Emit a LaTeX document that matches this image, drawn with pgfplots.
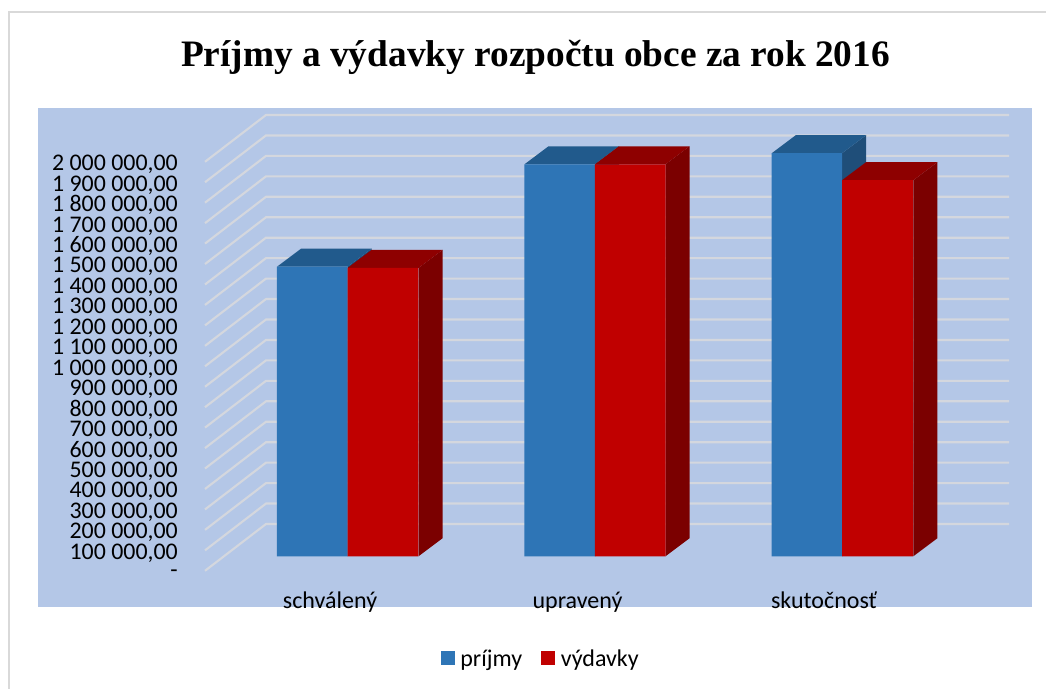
\documentclass[border=0pt]{standalone}
\usepackage{pgfplots}
\usepackage{fontspec}
\pgfplotsset{compat=1.18}
\setmainfont{Carlito}
\newfontfamily\titlefont{Liberation Serif}
\definecolor{panel}{HTML}{B4C7E7}
\definecolor{gridc}{HTML}{D4D7DE}
\definecolor{bfront}{HTML}{2E75B6}
\definecolor{btop}{HTML}{215A8C}
\definecolor{bside}{HTML}{1F4E79}
\definecolor{rfront}{HTML}{C00000}
\definecolor{rtop}{HTML}{8E0000}
\definecolor{rside}{HTML}{7B0000}
\definecolor{frame}{HTML}{D9D9D9}
\begin{document}
\begin{tikzpicture}[x=0.75pt,y=0.75pt]
\useasboundingbox (0,0) rectangle (1046,689);
\fill[white] (0,0) rectangle (1046,689);
\draw[frame,line width=1.5pt] (1060,676.5) -- (9,676.5) -- (9,-10);
\fill[panel] (38,82) rectangle (1032,581);
\node[font=\titlefont\bfseries\fontsize{28}{32}\selectfont,anchor=base] at (535.5,622.5) {Príjmy a výdavky rozpočtu obce za rok 2016};
\begin{axis}[
  at={(153.75pt,88.65pt)},anchor=south west,
  scale only axis,width=603pt,height=306.75pt,
  xmin=205,xmax=1009,ymin=0,ymax=2000000,
  scaled y ticks=false,
  clip=false,
  axis line style={draw=none},
  tick style={draw=none},
  major tick length=0pt,
  barface/.style={yshift=10.875pt},
  xtick={330,577.5,824},
  xticklabels={schválený,upravený,skutočnosť},
  xticklabel style={anchor=base,font=\fontsize{18}{20}\selectfont,yshift=-28pt},
  ytick={0,100000,200000,300000,400000,500000,600000,700000,800000,900000,1000000,1100000,1200000,1300000,1400000,1500000,1600000,1700000,1800000,1900000,2000000},
  yticklabels={{-\hspace{10.5pt}},{100~000,00},{200~000,00},{300~000,00},{400~000,00},{500~000,00},{600~000,00},{700~000,00},{800~000,00},{900~000,00},{1~000~000,00},{1~100~000,00},{1~200~000,00},{1~300~000,00},{1~400~000,00},{1~500~000,00},{1~600~000,00},{1~700~000,00},{1~800~000,00},{1~900~000,00},{2~000~000,00}},
  yticklabel style={anchor=east,inner xsep=0pt,xshift=-20.25pt,yshift=-2pt,font=\fontsize{17.9}{20}\selectfont},
  legend style={at={(axis cs:541,-431300)},anchor=center,draw=none,fill=none,
    legend columns=2,font=\fontsize{18}{20}\selectfont,
    /tikz/every even column/.append style={column sep=12.25pt},
    /tikz/every odd column/.append style={column sep=2.25pt}},
  legend image code/.code={\fill[#1] (0pt,-15pt) rectangle (10.5pt,-4.5pt);},
  unbounded coords=jump,
]
% gridlines: side wall and back wall
\addplot[forget plot,gridc,line width=1.6pt,line join=miter] coordinates {
(205,0)(266,228850)(1009,228850) (nan,nan)
(205,100000)(266,328850)(1009,328850) (nan,nan)
(205,200000)(266,428850)(1009,428850) (nan,nan)
(205,300000)(266,528850)(1009,528850) (nan,nan)
(205,400000)(266,628850)(1009,628850) (nan,nan)
(205,500000)(266,728850)(1009,728850) (nan,nan)
(205,600000)(266,828850)(1009,828850) (nan,nan)
(205,700000)(266,928850)(1009,928850) (nan,nan)
(205,800000)(266,1028850)(1009,1028850) (nan,nan)
(205,900000)(266,1128850)(1009,1128850) (nan,nan)
(205,1000000)(266,1228850)(1009,1228850) (nan,nan)
(205,1100000)(266,1328850)(1009,1328850) (nan,nan)
(205,1200000)(266,1428850)(1009,1428850) (nan,nan)
(205,1300000)(266,1528850)(1009,1528850) (nan,nan)
(205,1400000)(266,1628850)(1009,1628850) (nan,nan)
(205,1500000)(266,1728850)(1009,1728850) (nan,nan)
(205,1600000)(266,1828850)(1009,1828850) (nan,nan)
(205,1700000)(266,1928850)(1009,1928850) (nan,nan)
(205,1800000)(266,2028850)(1009,2028850) (nan,nan)
(205,1900000)(266,2128850)(1009,2128850) (nan,nan)
(205,2000000)(266,2228850)(1009,2228850)
};
% --- príjmy: sides and tops
\addplot[barface,forget plot,fill=bside,draw=none] coordinates {(347.5,0)(371.5,88020)(371.5,1504020)(347.5,1416000)} --cycle;
\addplot[barface,forget plot,fill=btop,draw=none] coordinates {(277,1416000)(347.5,1416000)(371.5,1504020)(301,1504020)} --cycle;
\addplot[barface,forget plot,fill=bside,draw=none] coordinates {(595,0)(619,88020)(619,2005020)(595,1917000)} --cycle;
\addplot[barface,forget plot,fill=btop,draw=none] coordinates {(524.5,1917000)(595,1917000)(619,2005020)(548.5,2005020)} --cycle;
\addplot[barface,forget plot,fill=bside,draw=none] coordinates {(842,0)(866,88020)(866,2059020)(842,1971000)} --cycle;
\addplot[barface,forget plot,fill=btop,draw=none] coordinates {(771.7,1971000)(842,1971000)(866,2059020)(795.7,2059020)} --cycle;
\addplot[barface,ybar,bar width=52.9pt,bar shift=0pt,fill=bfront,draw=none] coordinates {(312.25,1416000)(559.75,1917000)(806.85,1971000)};
\addlegendentry{príjmy}
% --- výdavky: sides and tops
\addplot[barface,forget plot,fill=rside,draw=none] coordinates {(418.5,0)(442.5,88020)(442.5,1498020)(418.5,1410000)} --cycle;
\addplot[barface,forget plot,fill=rtop,draw=none] coordinates {(347.5,1410000)(418.5,1410000)(442.5,1498020)(371.5,1498020)} --cycle;
\addplot[barface,forget plot,fill=rside,draw=none] coordinates {(665.5,0)(689.5,88020)(689.5,2005020)(665.5,1917000)} --cycle;
\addplot[barface,forget plot,fill=rtop,draw=none] coordinates {(595,1917000)(665.5,1917000)(689.5,2005020)(619,2005020)} --cycle;
\addplot[barface,forget plot,fill=rside,draw=none] coordinates {(913.3,0)(937.3,88020)(937.3,1927020)(913.3,1839000)} --cycle;
\addplot[barface,forget plot,fill=rtop,draw=none] coordinates {(842,1839000)(913.3,1839000)(937.3,1927020)(866,1927020)} --cycle;
\addplot[barface,ybar,bar width=53.2pt,bar shift=0pt,fill=rfront,draw=none] coordinates {(383,1410000)(630.25,1917000)(877.65,1839000)};
\addlegendentry{výdavky}
\end{axis}
\end{tikzpicture}
\end{document}
